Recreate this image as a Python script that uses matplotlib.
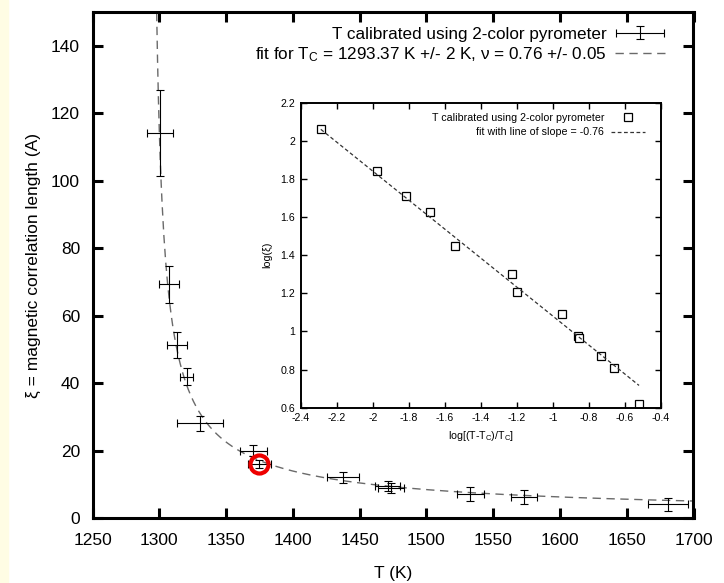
import matplotlib
matplotlib.use("Agg")
import matplotlib.pyplot as plt
import numpy as np
from matplotlib.container import ErrorbarContainer
from matplotlib.legend_handler import HandlerErrorbar
from matplotlib.patches import Rectangle
from matplotlib.ticker import FuncFormatter

plt.rcParams["font.family"] = ["Liberation Sans", "DejaVu Sans"]
plt.rcParams["mathtext.default"] = "regular"
plt.rcParams["axes.unicode_minus"] = False

# correlation length vs temperature (main panel)
temp_k = [1300.5, 1307.3, 1313.0, 1320.5, 1330.5, 1370.3, 1374.9,
          1437.7, 1471.0, 1473.5, 1533.0, 1573.0, 1681.0]
temp_err = [10.0, 7.5, 7.5, 4.7, 17.5, 10.0, 8.7, 12.2, 9.5, 10.0, 10.0, 10.0, 15.0]
xi = [114.2, 69.3, 51.3, 41.9, 28.1, 19.9, 16.0, 12.1, 9.6, 9.0, 7.0, 6.2, 4.1]
xi_err = [12.7, 5.5, 3.9, 2.5, 2.2, 1.6, 1.2, 1.6, 1.5, 1.5, 2.1, 2.1, 1.9]
highlight = 6

# same points on log axes (inset)
log_t = [-2.29, -1.976, -1.818, -1.683, -1.544, -1.226, -1.2,
         -0.952, -0.862, -0.857, -0.732, -0.663, -0.522]
log_xi = [2.06, 1.843, 1.712, 1.625, 1.45, 1.301, 1.207,
          1.09, 0.975, 0.965, 0.871, 0.808, 0.618]

# power-law fit parameters
t_c = 1293.37
nu = 0.76
log_amp = 0.32

x_ticks = list(range(1250, 1701, 50))
y_ticks = list(range(0, 141, 20))
inset_x_ticks = [-2.4, -2.2, -2.0, -1.8, -1.6, -1.4, -1.2, -1.0, -0.8, -0.6, -0.4]
inset_y_ticks = [0.6, 0.8, 1.0, 1.2, 1.4, 1.6, 1.8, 2.0, 2.2]

W, H = 724, 583
fig = plt.figure(figsize=(W / 100, H / 100), dpi=100)
fig.patches.append(Rectangle((0, 0), 8 / W, 1, transform=fig.transFigure,
                             color="#fffde4", zorder=-1))

ax = fig.add_axes([92.5 / W, 65 / H, 601 / W, 506 / H])

t_fit = np.linspace(t_c + 4.0, 1700, 600)
xi_fit = 10 ** log_amp * ((t_fit - t_c) / t_c) ** (-nu)
fit_line, = ax.plot(t_fit, xi_fit, color="#6a6a6a", lw=1.0, dashes=(6, 4))

eb = ax.errorbar(temp_k, xi, xerr=temp_err, yerr=xi_err, fmt="none",
                 ecolor="black", elinewidth=0.8, capsize=3, capthick=0.8)
ax.plot(temp_k[highlight], xi[highlight], "o", ms=13, mfc="none",
        mec="#ee0000", mew=3.0, zorder=5)

ax.set_xlim(1250, 1700)
ax.set_ylim(0, 150)
ax.set_xticks(x_ticks)
ax.set_yticks(y_ticks)
ax.tick_params(direction="in", length=7, width=2.2, top=True, right=True,
               labelsize=12.5)
ax.tick_params(axis="x", pad=11)
ax.tick_params(axis="y", pad=9)
for s in ax.spines.values():
    s.set_linewidth(2.2)
ax.set_xlabel("T (K)", fontsize=12.5, labelpad=13)
ax.set_ylabel("ξ = magnetic correlation length (A)", fontsize=12.5, labelpad=7)

leg = ax.legend([eb, fit_line],
                ["T calibrated using 2-color pyrometer",
                 "fit for T$_C$ = 1293.37 K +/- 2 K, ν = 0.76 +/- 0.05"],
                loc="upper right", bbox_to_anchor=(0.966, 0.988),
                frameon=False, markerfirst=False, borderpad=0,
                handlelength=2.9, handletextpad=0.5, labelspacing=0.2,
                handler_map={ErrorbarContainer: HandlerErrorbar(xerr_size=1.4, yerr_size=0.4)},
                prop={"family": ["Liberation Sans Narrow", "Liberation Sans"], "size": 12.3})

# inset: log-log view with straight-line fit
ax2 = fig.add_axes([301 / W, (H - 407.7) / H, 360 / W, 305 / H])
ax2.plot(log_t, log_xi, "s", ms=6, mfc="white", mec="black", mew=0.9,
         ls="none", label="T calibrated using 2-color pyrometer")
lx = np.array([min(log_t), max(log_t)])
ax2.plot(lx, log_amp - nu * lx, color="#333333", lw=0.9, dashes=(3, 2),
         label="fit with line of slope = -0.76")
ax2.set_xlim(-2.4, -0.4)
ax2.set_ylim(0.6, 2.2)
ax2.set_xticks(inset_x_ticks)
ax2.set_yticks(inset_y_ticks)
fmt = FuncFormatter(lambda v, p: "%g" % round(v, 2))
ax2.xaxis.set_major_formatter(fmt)
ax2.yaxis.set_major_formatter(fmt)
ax2.tick_params(direction="in", length=4.5, width=1.0, top=True, right=True,
                labelsize=7.7, pad=4)
for s in ax2.spines.values():
    s.set_linewidth(1.4)
ax2.set_xlabel("log[(T-T$_C$)/T$_C$]", fontsize=7.7, labelpad=4)
ax2.set_ylabel("log(ξ)", fontsize=7.7, labelpad=6)
ax2.legend(loc="upper right", bbox_to_anchor=(0.97, 0.985), frameon=False,
           markerfirst=False, borderpad=0, handlelength=3.2, handletextpad=0.6,
           labelspacing=0.45, fontsize=7.7)

fig.savefig("out.png", dpi=100)
